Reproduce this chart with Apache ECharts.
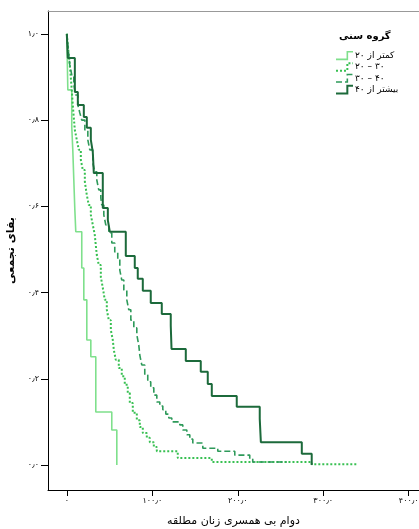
<!DOCTYPE html>
<html>
<head>
<meta charset="utf-8">
<script src="https://cdn.jsdelivr.net/npm/echarts@6/dist/echarts.min.js"></script>
<style>html,body{margin:0;padding:0;background:#fff}#c{width:419px;height:529px}</style>
</head>
<body>
<div id="c"></div>
<script>
// ---- data ----
const groupNames = ['کمتر از ۲۰', '۲۰ – ۳۰', '۳۰ – ۴۰', 'بیشتر از ۴۰'];
const legendTitle = 'گروه سنی';
const xTitle = 'دوام بی همسری زنان مطلقه';
const yTitle = 'بقای تجمعی';

const xTickValues = [0, 100, 200, 300, 400];
const xTickLabels = ['۰', '۱۰۰٫۰', '۲۰۰٫۰', '۳۰۰٫۰', '۴۰۰٫۰'];
const yTickValues = [0, 0.2, 0.4, 0.6, 0.8, 1.0];
const yTickLabels = ['۰٫۰', '۰٫۲', '۰٫۴', '۰٫۶', '۰٫۸', '۱٫۰'];

// group < 20
const timeUnder20 = [0, 1.2, 5.8, 7.0, 8.2, 9.4, 10.5, 17.5, 19.9, 23.4, 28.1, 33.9, 52.6, 58.5];
const survUnder20 = [1, 0.870, 0.784, 0.731, 0.661, 0.592, 0.541, 0.457, 0.383, 0.290, 0.251, 0.123, 0.081, 0];

// group 20-30
const time20to30 = [0, 1.2, 2.3, 3.5, 4.7, 5.8, 7.0, 8.2, 9.4, 11.7, 14.0, 16.4, 18.7, 21.1, 23.4, 25.7, 28.1, 30.4, 32.7, 33.9, 35.1, 37.4, 39.8, 42.1, 44.4, 46.8, 49.1, 51.5, 53.8, 55.0, 57.3, 60.8, 64.3, 67.8, 71.3, 73.7, 77.2, 81.9, 85.4, 88.9, 93.6, 97.1, 101.8, 105.3, 129.8, 169.6, 286.5, 340.4];
const surv20to30 = [1, 0.974, 0.951, 0.928, 0.898, 0.870, 0.835, 0.805, 0.777, 0.754, 0.731, 0.708, 0.684, 0.657, 0.626, 0.603, 0.580, 0.557, 0.534, 0.510, 0.487, 0.464, 0.436, 0.411, 0.383, 0.360, 0.336, 0.313, 0.290, 0.267, 0.244, 0.225, 0.206, 0.186, 0.167, 0.144, 0.121, 0.104, 0.088, 0.074, 0.063, 0.053, 0.042, 0.032, 0.016, 0.007, 0.002, 0.002];

// group 30-40
const time30to40 = [0, 1.2, 2.3, 3.5, 5.8, 8.2, 10.5, 12.9, 15.2, 17.5, 21.1, 24.6, 26.9, 30.4, 32.7, 35.1, 37.4, 39.8, 40.9, 43.3, 45.6, 49.1, 52.6, 56.1, 59.6, 62.0, 64.3, 66.7, 70.2, 72.5, 74.9, 78.4, 81.9, 84.2, 85.4, 87.7, 91.2, 94.7, 98.2, 101.8, 105.3, 108.8, 112.3, 115.8, 119.3, 122.8, 132.2, 135.7, 140.4, 143.9, 147.4, 159.1, 176.6, 196.5, 214.0, 217.5, 257.3];
const surv30to40 = [1, 0.974, 0.951, 0.928, 0.905, 0.882, 0.858, 0.835, 0.817, 0.800, 0.777, 0.754, 0.731, 0.701, 0.680, 0.661, 0.638, 0.619, 0.603, 0.580, 0.557, 0.538, 0.515, 0.494, 0.476, 0.452, 0.429, 0.406, 0.383, 0.360, 0.336, 0.318, 0.302, 0.278, 0.255, 0.232, 0.209, 0.193, 0.179, 0.162, 0.146, 0.137, 0.128, 0.118, 0.109, 0.100, 0.093, 0.081, 0.070, 0.060, 0.051, 0.039, 0.032, 0.023, 0.014, 0.007, 0.007];

// group > 40
const timeOver40 = [0, 1.2, 9.4, 12.9, 19.9, 23.4, 28.1, 30.4, 31.6, 42.1, 48.0, 50.3, 69.0, 79.5, 83.0, 88.9, 98.2, 111.1, 121.6, 122.5, 139.2, 156.7, 164.9, 169.6, 198.8, 225.7, 227.0, 274.9, 286.5];
const survOver40 = [1, 0.944, 0.865, 0.835, 0.807, 0.782, 0.754, 0.726, 0.677, 0.596, 0.568, 0.541, 0.485, 0.457, 0.432, 0.404, 0.376, 0.350, 0.323, 0.269, 0.241, 0.216, 0.188, 0.160, 0.135, 0.107, 0.053, 0.026, 0];

// ---- styles ----
const colors = ['#7fe08c', '#38c052', '#2e9a5a', '#1c6a3b'];
const lineTypes = ['solid', [2, 2], [6, 3], 'solid'];
const lineWidths = [1.6, 2, 1.6, 2];
const FONT = 'DejaVu Sans';

const times = [timeUnder20, time20to30, time30to40, timeOver40];
const survs = [survUnder20, surv20to30, surv30to40, survOver40];

const chart = echarts.init(document.getElementById('c'), null, {renderer: 'canvas'});

const series = groupNames.map((name, i) => ({
  name: name,
  type: 'line',
  step: 'end',
  symbol: 'none',
  showSymbol: false,
  animation: false,
  data: times[i].map((t, k) => [t, survs[i][k]]),
  lineStyle: {color: colors[i], width: lineWidths[i], type: lineTypes[i]},
  itemStyle: {color: colors[i]},
  z: 2 + i
}));

const option = {
  animation: false,
  title: {
    text: legendTitle,
    left: 334, top: 26,
    textStyle: {fontFamily: FONT, fontSize: 10, fontWeight: 'bold', color: '#000'}
  },
  legend: {
    orient: 'vertical',
    left: 330, top: 46,
    itemWidth: 17, itemHeight: 8, itemGap: 2,
    textStyle: {fontFamily: FONT, fontSize: 9, color: '#000', padding: [0, 0, 0, -3]},
    selectedMode: false,
    data: groupNames.map((name, i) => ({
      name: name,
      icon: 'path://M0,10 L12,10 L12,2 L18,2',
      itemStyle: {color: 'transparent', borderColor: colors[i], borderWidth: lineWidths[i], borderType: lineTypes[i]}
    }))
  },
  grid: {left: 48, right: 0, top: 11, bottom: 39, containLabel: false, outerBoundsMode: 'none'},
  xAxis: [{
    type: 'value',
    min: -22, max: 412,
    name: xTitle,
    nameLocation: 'middle',
    nameGap: 26,
    nameTextStyle: {fontFamily: FONT, fontSize: 11, color: '#000'},
    axisLine: {show: true, onZero: false, lineStyle: {color: '#000', width: 1}},
    axisTick: {show: true, length: 6, customValues: xTickValues, lineStyle: {color: '#000'}},
    axisLabel: {
      customValues: xTickValues, margin: 7,
      fontFamily: FONT, fontSize: 8, color: '#000',
      formatter: v => xTickLabels[xTickValues.indexOf(v)]
    },
    splitLine: {show: false}
  }, {
    type: 'value',
    position: 'top',
    min: -22, max: 412,
    axisLine: {show: true, onZero: false, lineStyle: {color: '#999', width: 1}},
    axisTick: {show: false}, axisLabel: {show: false}, splitLine: {show: false}
  }],
  yAxis: {
    type: 'value',
    min: -0.058, max: 1.053,
    name: yTitle,
    nameLocation: 'middle',
    nameGap: 26,
    nameTextStyle: {fontFamily: FONT, fontSize: 11, fontWeight: 'bold', color: '#000'},
    axisLine: {show: true, onZero: false, lineStyle: {color: '#000', width: 1}},
    axisTick: {show: true, length: 7, customValues: yTickValues, lineStyle: {color: '#000'}},
    axisLabel: {
      customValues: yTickValues, margin: 9,
      fontFamily: FONT, fontSize: 8, color: '#000',
      formatter: v => yTickLabels[yTickValues.indexOf(v)]
    },
    splitLine: {show: false}
  },
  series: series
};
chart.setOption(option);
</script>
</body>
</html>
